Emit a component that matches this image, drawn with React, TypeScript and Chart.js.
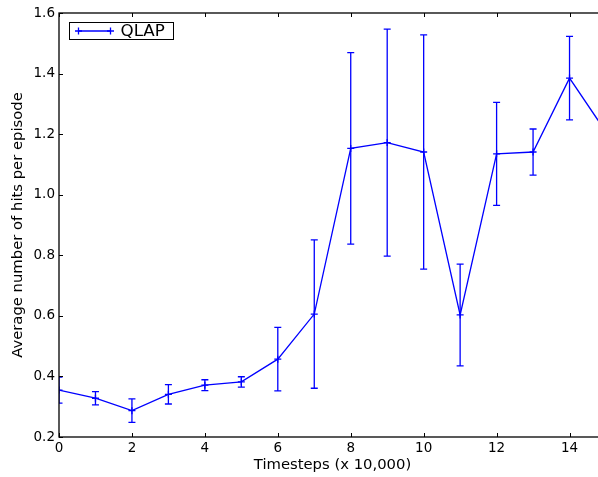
import React, { useEffect, useRef } from 'react';
import { Chart, registerables } from 'chart.js';

Chart.register(...registerables);

// ---- data ----
const seriesLabel = 'QLAP';
const timesteps = [0, 1, 2, 3, 4, 5, 6, 7, 8, 9, 10, 11, 12, 13, 14, 15];
const avgHits = [0.355, 0.328, 0.287, 0.341, 0.371, 0.382, 0.457, 0.606, 1.153, 1.172, 1.141, 0.603, 1.135, 1.141, 1.385, 1.207];
const hitErrors = [0.043, 0.022, 0.039, 0.032, 0.018, 0.017, 0.105, 0.245, 0.316, 0.375, 0.387, 0.168, 0.17, 0.076, 0.138, 0.1];
const xTickValues = [0, 2, 4, 6, 8, 10, 12, 14];
const yTickValues = [0.2, 0.4, 0.6, 0.8, 1.0, 1.2, 1.4, 1.6];
const xTitle = 'Timesteps (x 10,000)';
const yTitle = 'Average number of hits per episode';

const BLUE = '#0000ff';
const FONT = 'DejaVu Sans';

function drawCross(ctx: CanvasRenderingContext2D, x: number, y: number, r: number) {
  ctx.beginPath();
  ctx.moveTo(x - r, y);
  ctx.lineTo(x + r, y);
  ctx.moveTo(x, y - r);
  ctx.lineTo(x, y + r);
  ctx.stroke();
}

const errorBarPlugin = {
  id: 'errorBars',
  afterDatasetsDraw(chart: any) {
    const { ctx, chartArea, scales } = chart;
    const xs = scales.x;
    const ys = scales.y;
    ctx.save();
    ctx.beginPath();
    ctx.rect(chartArea.left, chartArea.top, chartArea.right - chartArea.left, chartArea.bottom - chartArea.top);
    ctx.clip();
    ctx.strokeStyle = BLUE;
    ctx.lineWidth = 1.3;
    const cap = 3.5;
    timesteps.forEach((t, i) => {
      const px = xs.getPixelForValue(t);
      const yTop = ys.getPixelForValue(avgHits[i] + hitErrors[i]);
      const yBot = ys.getPixelForValue(avgHits[i] - hitErrors[i]);
      ctx.beginPath();
      ctx.moveTo(px, yTop);
      ctx.lineTo(px, yBot);
      ctx.moveTo(px - cap, yTop);
      ctx.lineTo(px + cap, yTop);
      ctx.moveTo(px - cap, yBot);
      ctx.lineTo(px + cap, yBot);
      ctx.stroke();
    });
    ctx.restore();
  },
};

const framePlugin = {
  id: 'frameTicksLegend',
  afterDraw(chart: any) {
    const { ctx, chartArea, scales } = chart;
    const { left, right, top, bottom } = chartArea;
    ctx.save();
    ctx.strokeStyle = '#000';
    ctx.lineWidth = 1.3;
    ctx.strokeRect(left, top, right - left, bottom - top);
    // inward ticks
    ctx.lineWidth = 1;
    const tl = 4;
    ctx.beginPath();
    xTickValues.forEach((v) => {
      const px = Math.round(scales.x.getPixelForValue(v)) + 0.5;
      ctx.moveTo(px, bottom);
      ctx.lineTo(px, bottom - tl);
      ctx.moveTo(px, top);
      ctx.lineTo(px, top + tl);
    });
    yTickValues.forEach((v) => {
      const py = Math.round(scales.y.getPixelForValue(v)) + 0.5;
      ctx.moveTo(left, py);
      ctx.lineTo(left + tl, py);
      ctx.moveTo(right, py);
      ctx.lineTo(right - tl, py);
    });
    ctx.stroke();

    // legend
    const bx = left + 10.5;
    const by = top + 9.5;
    const bw = 104;
    const bh = 17;
    ctx.fillStyle = '#fff';
    ctx.fillRect(bx, by, bw, bh);
    ctx.strokeStyle = '#000';
    ctx.lineWidth = 1;
    ctx.strokeRect(bx, by, bw, bh);
    const ly = by + bh / 2;
    ctx.strokeStyle = BLUE;
    ctx.lineWidth = 1.3;
    ctx.beginPath();
    ctx.moveTo(bx + 9, ly);
    ctx.lineTo(bx + 41, ly);
    ctx.stroke();
    drawCross(ctx, bx + 9, ly, 3.5);
    drawCross(ctx, bx + 41, ly, 3.5);
    ctx.fillStyle = '#000';
    ctx.font = `16.7px "${FONT}"`;
    ctx.textBaseline = 'middle';
    ctx.textAlign = 'left';
    ctx.fillText(chart.data.datasets[0].label, bx + 51, ly + 0.5);
    ctx.restore();
  },
};

export default function App() {
  const ref = useRef<HTMLCanvasElement>(null);
  useEffect(() => {
    const canvas = ref.current;
    if (!canvas) return;
    const chart = new Chart(canvas, {
      type: 'line',
      data: {
        datasets: [
          {
            label: seriesLabel,
            data: timesteps.map((t, i) => ({ x: t, y: avgHits[i] })),
            borderColor: BLUE,
            backgroundColor: BLUE,
            borderWidth: 1.3,
            pointStyle: 'cross',
            pointRadius: 3.5,
            pointBorderWidth: 1.3,
            pointBorderColor: BLUE,
            tension: 0,
            fill: false,
          },
        ],
      },
      options: {
        animation: false,
        responsive: false,
        devicePixelRatio: 1,
        layout: { padding: { left: 0, top: 13, right: 14, bottom: 0 } },
        plugins: {
          legend: { display: false },
          tooltip: { enabled: false },
        },
        scales: {
          x: {
            type: 'linear',
            min: 0,
            max: 15,
            grid: { display: false, drawTicks: false },
            border: { display: false },
            afterBuildTicks: (scale: any) => {
              scale.ticks = xTickValues.map((v) => ({ value: v }));
            },
            afterFit: (scale: any) => {
              scale.height = 40;
            },
            ticks: {
              color: '#000',
              font: { family: FONT, size: 13.5 },
              padding: 3,
              maxRotation: 0,
              autoSkip: false,
              callback: (v: any) => String(v),
            },
            title: {
              display: true,
              text: xTitle,
              color: '#000',
              font: { family: FONT, size: 14.8 },
              padding: { top: 0, bottom: 3 },
            },
          },
          y: {
            type: 'linear',
            min: 0.2,
            max: 1.6,
            grid: { display: false, drawTicks: false },
            border: { display: false },
            afterBuildTicks: (scale: any) => {
              scale.ticks = yTickValues.map((v) => ({ value: v }));
            },
            afterFit: (scale: any) => {
              scale.width = 59;
            },
            ticks: {
              color: '#000',
              font: { family: FONT, size: 13.5 },
              padding: 4,
              autoSkip: false,
              callback: (v: any) => Number(v).toFixed(1),
            },
            title: {
              display: true,
              text: yTitle,
              color: '#000',
              font: { family: FONT, size: 14.8 },
              padding: { top: 9, bottom: 0 },
            },
          },
        },
      },
      plugins: [errorBarPlugin, framePlugin],
    });
    return () => chart.destroy();
  }, []);

  return (
    <div
      style={{
        position: 'fixed',
        left: 0,
        top: 0,
        width: 598,
        height: 477,
        overflow: 'hidden',
        background: '#fff',
      }}
    >
      <canvas ref={ref} width={620} height={477} style={{ display: 'block', width: 620, height: 477 }} />
    </div>
  );
}
